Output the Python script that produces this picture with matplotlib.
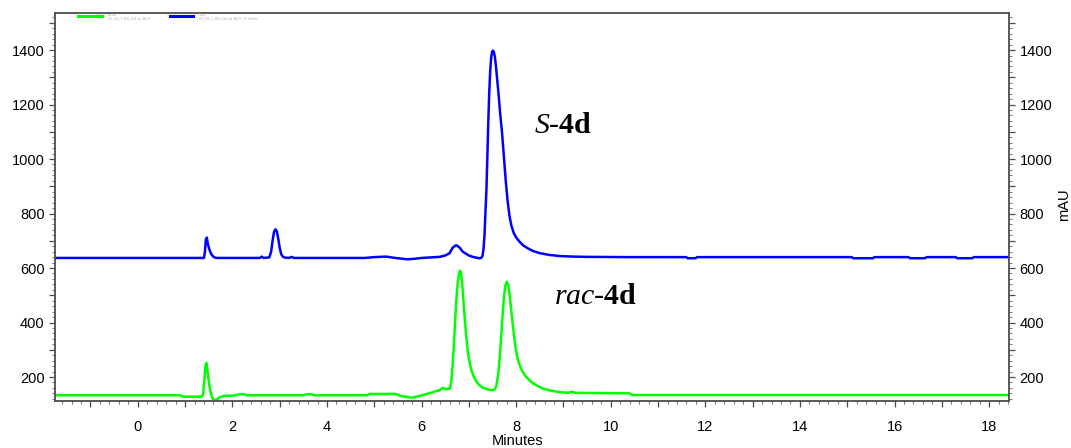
import matplotlib
matplotlib.use("Agg")
import matplotlib.pyplot as plt
from matplotlib.ticker import MultipleLocator, FuncFormatter
from matplotlib.lines import Line2D

# ---- chromatogram traces (retention time in min, absorbance in mAU) ----
s_time = [-1.75, 1.40, 1.42, 1.44, 1.46, 1.48, 1.51, 1.55, 1.60, 1.66, 2.58, 2.62, 2.66,
          2.78, 2.82, 2.85, 2.88, 2.91, 2.94, 2.97, 3.00, 3.03, 3.07, 3.12, 3.20, 3.25,
          3.30, 4.80, 5.00, 5.25, 5.40, 5.70, 5.85, 6.00, 6.38, 6.50, 6.59, 6.66, 6.73,
          6.80, 6.87, 7.00, 7.08, 7.22, 7.26, 7.29, 7.31, 7.33, 7.35, 7.37, 7.39, 7.41,
          7.43, 7.45, 7.47, 7.49, 7.51, 7.53, 7.55, 7.57, 7.60, 7.63, 7.66, 7.70, 7.74,
          7.78, 7.82, 7.86, 7.90, 7.95, 8.00, 8.08, 8.15, 8.25, 8.35, 8.49, 8.70, 8.92,
          9.20, 9.50, 10.40, 11.60, 11.62, 11.80, 11.82, 15.10, 15.12, 15.55, 15.57,
          16.30, 16.32, 16.65, 16.67, 17.30, 17.32, 17.65, 17.67, 18.40]
s_mau = [637, 637, 660, 705, 712, 690, 670, 652, 641, 637, 637, 642, 637,
         639, 660, 700, 732, 742, 735, 708, 675, 652, 641, 638, 637, 641,
         637, 637, 640, 642, 638, 632, 634, 637, 641, 646, 654, 675, 684,
         676, 660, 646, 641, 636, 637, 645, 670, 720, 800, 880, 1000, 1130,
         1240, 1320, 1370, 1393, 1398, 1392, 1375, 1345, 1290, 1235, 1170, 1100, 1010,
         920, 845, 790, 755, 728, 712, 695, 683, 672, 663, 655, 648, 644,
         642, 641, 640, 640, 636, 636, 640, 640, 636, 636, 640,
         640, 636, 636, 640, 640, 636, 636, 640, 640]

rac_time = [-1.75, 0.90, 0.95, 1.35, 1.38, 1.41, 1.43, 1.45, 1.47, 1.50, 1.54, 1.58,
            1.62, 1.67, 1.74, 1.82, 2.05, 2.15, 2.25, 2.30, 3.50, 3.58, 3.68, 3.72,
            4.85, 4.90, 5.45, 5.55, 5.78, 5.90, 6.05, 6.25, 6.38, 6.45, 6.52, 6.60,
            6.63, 6.66, 6.69, 6.72, 6.75, 6.78, 6.81, 6.83, 6.86, 6.89, 6.92, 6.95,
            6.98, 7.02, 7.06, 7.10, 7.15, 7.20, 7.28, 7.38, 7.48, 7.54, 7.58, 7.62,
            7.65, 7.68, 7.71, 7.74, 7.77, 7.80, 7.83, 7.86, 7.89, 7.93, 7.97, 8.01,
            8.06, 8.12, 8.20, 8.30, 8.42, 8.56, 8.75, 8.95, 9.10, 9.17, 9.24, 10.40,
            10.45, 18.40]
rac_mau = [133, 133, 128, 128, 135, 190, 240, 252, 230, 185, 145, 122,
           115, 118, 126, 131, 132, 137, 137, 133, 133, 137, 137, 133,
           133, 138, 138, 131, 124, 128, 135, 145, 152, 160, 155, 158,
           185, 250, 340, 440, 519, 568, 590, 587, 540, 470, 400, 340,
           290, 250, 222, 203, 186, 174, 162, 155, 152, 153, 165, 210,
           265, 340, 420, 490, 535, 549, 540, 505, 455, 390, 330, 285,
           250, 225, 203, 185, 170, 158, 149, 144, 142, 146, 142, 140,
           134, 134]

x_range = (-1.75, 18.42)
y_range = (112, 1536)
y_ticks = [200, 400, 600, 800, 1000, 1200, 1400]
x_ticks = [0, 2, 4, 6, 8, 10, 12, 14, 16, 18]

plt.rcParams["font.family"] = ["Liberation Sans", "DejaVu Sans"]
plt.rcParams["mathtext.fontset"] = "custom"
plt.rcParams["mathtext.rm"] = "Liberation Serif"
plt.rcParams["mathtext.it"] = "Liberation Serif:italic"
plt.rcParams["mathtext.bf"] = "Liberation Serif:bold"

fig = plt.figure(figsize=(10.71, 4.48), dpi=100)
ax = fig.add_axes([55 / 1071, 1 - 401 / 448, (1009 - 55) / 1071, (401 - 13) / 448])

ax.plot(rac_time, rac_mau, color="#00ff00", lw=1.8, solid_joinstyle="round")
ax.plot(s_time, s_mau, color="#0000ff", lw=1.8, solid_joinstyle="round")

ax.set_xlim(*x_range)
ax.set_ylim(*y_range)

frame = "#4d4d4d"
for sp in ax.spines.values():
    sp.set_color(frame)
    sp.set_linewidth(1.3)

ax.xaxis.set_major_locator(MultipleLocator(1))
ax.xaxis.set_minor_locator(MultipleLocator(0.2))
ax.xaxis.set_major_formatter(FuncFormatter(
    lambda v, p: f"{int(round(v))}" if int(round(v)) in x_ticks else ""))
ax.yaxis.set_major_locator(MultipleLocator(100))
ax.yaxis.set_minor_locator(MultipleLocator(20))
ax.yaxis.set_major_formatter(FuncFormatter(
    lambda v, p: f"{int(round(v))}" if int(round(v)) in y_ticks else ""))

ax.tick_params(axis="both", which="major", direction="out", length=4.5, width=0.9,
               color=frame, labelsize=10.5, pad=3)
ax.tick_params(axis="both", which="minor", direction="out", length=2.2, width=0.7,
               color="#777777")
ax.tick_params(axis="y", which="both", left=True, right=True,
               labelleft=True, labelright=True)
ax.tick_params(axis="x", which="major", pad=9)

# peak annotations
ax.text(8.37, 1095, r"$\mathit{S}$-$\mathbf{4d}$", fontsize=21.5,
        family="Liberation Serif", ha="left", va="baseline")
ax.text(8.79, 468, r"$\mathit{rac}$-$\mathbf{4d}$", fontsize=21.5,
        family="Liberation Serif", ha="left", va="baseline")

# axis titles
fig.text(518 / 1071, 1 - 441 / 448, "Minutes", ha="center", va="center", fontsize=10.5)
fig.text(1064 / 1071, 1 - 205 / 448, "mAU", ha="center", va="center",
         rotation=90, fontsize=10.5)

# trace key along the top of the frame
for x0, x1, col, lab1, lab2 in [
        (78, 102, "#00ff00", "rac-4d", "UV_VIS_1  WVL:254 nm  AD-H"),
        (170, 193, "#0000ff", "S-4d", "UV_VIS_1  WVL:254 nm  AD-H  0.5 mL/min")]:
    fig.add_artist(Line2D([x0 / 1071, x1 / 1071], [1 - 16 / 448, 1 - 16 / 448],
                          color=col, lw=2.2, transform=fig.transFigure))
    fig.text((x1 + 6) / 1071, 1 - 15 / 448, lab1, fontsize=2.2, color="#aaaaaa",
             va="center")
    fig.text((x1 + 6) / 1071, 1 - 18.5 / 448, lab2, fontsize=2.2, color="#aaaaaa",
             va="center")

fig.savefig("out.png", dpi=100, facecolor="white")
